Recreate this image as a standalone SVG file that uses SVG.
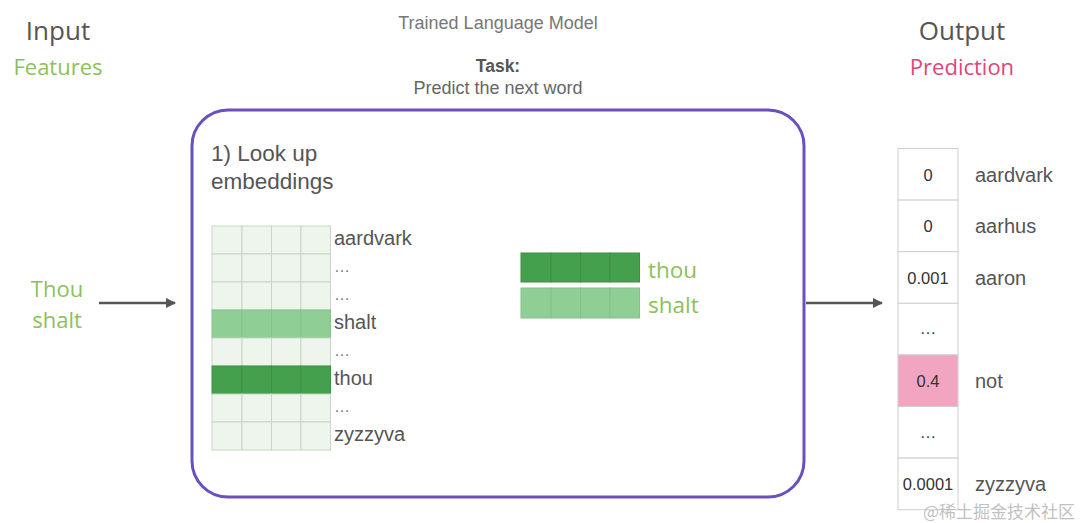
<svg xmlns="http://www.w3.org/2000/svg" width="1080" height="523" viewBox="0 0 1080 523">
<defs>
<marker id="arr" markerWidth="10" markerHeight="10" refX="9" refY="5" orient="auto" markerUnits="userSpaceOnUse">
<path d="M0,0 L10,5 L0,10 Z" fill="#555"/>
</marker>
<style>
.os{font-family:"Open Sans","Noto Sans",sans-serif}
.hv{font-family:"Liberation Sans",Arial,sans-serif}
.gray{fill:#555}
.green{fill:#8dbf5a}
.cell{fill:#eef5ec;stroke:#c7d6c5;stroke-width:1}
.dark{fill:#44a04c;stroke:#3e8f45;stroke-width:1}
.light{fill:#8fcf96;stroke:#86c08c;stroke-width:1}
.ocell{fill:#fff;stroke:#cfcfcf;stroke-width:1}
.lbl{font-size:20px}
.dots{font-size:16px;fill:#777}
.val{font-size:16.5px;fill:#333;text-anchor:middle}
.conn{stroke:#555;stroke-width:2.5;fill:none}
</style>
</defs>
<rect width="1080" height="523" fill="#fff"/>

<g id="input-header">
<text class="os gray" x="58" y="40" font-size="26" text-anchor="middle">Input</text>
<text class="os green" x="58" y="75" font-size="22" text-anchor="middle">Features</text>
</g>
<g id="output-header">
<text class="os gray" x="962" y="40" font-size="26" text-anchor="middle">Output</text>
<text class="os" x="962" y="75" font-size="22" text-anchor="middle" fill="#e0457b">Prediction</text>
</g>
<g id="title">
<text class="hv" x="498" y="29" font-size="18" text-anchor="middle" fill="#777">Trained Language Model</text>
<text class="hv" x="498" y="72" font-size="17.5" text-anchor="middle" fill="#555" font-weight="bold">Task:</text>
<text class="hv" x="498" y="94" font-size="18" text-anchor="middle" fill="#666">Predict the next word</text>
</g>

<g id="input-words">
<text class="os green" x="57" y="297" font-size="22" text-anchor="middle">Thou</text>
<text class="os green" x="57" y="328" font-size="22" text-anchor="middle">shalt</text>
</g>

<g id="model">
<rect x="192" y="110" width="612" height="387" rx="36" fill="none" stroke="#6a4fbf" stroke-width="3"/>
<text class="hv gray" x="211" y="161" font-size="22.5">1) Look up</text>
<text class="hv gray" x="211" y="189" font-size="22.5">embeddings</text>
</g>

<g id="embedding-matrix">
<g>
<rect class="cell" x="212" y="226" width="30" height="28"/><rect class="cell" x="242" y="226" width="29.5" height="28"/><rect class="cell" x="271.5" y="226" width="29.5" height="28"/><rect class="cell" x="301" y="226" width="29.5" height="28"/>
<rect class="cell" x="212" y="254" width="30" height="28"/><rect class="cell" x="242" y="254" width="29.5" height="28"/><rect class="cell" x="271.5" y="254" width="29.5" height="28"/><rect class="cell" x="301" y="254" width="29.5" height="28"/>
<rect class="cell" x="212" y="282" width="30" height="28"/><rect class="cell" x="242" y="282" width="29.5" height="28"/><rect class="cell" x="271.5" y="282" width="29.5" height="28"/><rect class="cell" x="301" y="282" width="29.5" height="28"/>
<rect class="light" x="212" y="310" width="30" height="28"/><rect class="light" x="242" y="310" width="29.5" height="28"/><rect class="light" x="271.5" y="310" width="29.5" height="28"/><rect class="light" x="301" y="310" width="29.5" height="28"/>
<rect class="cell" x="212" y="338" width="30" height="28"/><rect class="cell" x="242" y="338" width="29.5" height="28"/><rect class="cell" x="271.5" y="338" width="29.5" height="28"/><rect class="cell" x="301" y="338" width="29.5" height="28"/>
<rect class="dark" x="212" y="366" width="30" height="28"/><rect class="dark" x="242" y="366" width="29.5" height="28"/><rect class="dark" x="271.5" y="366" width="29.5" height="28"/><rect class="dark" x="301" y="366" width="29.5" height="28"/>
<rect class="cell" x="212" y="394" width="30" height="28"/><rect class="cell" x="242" y="394" width="29.5" height="28"/><rect class="cell" x="271.5" y="394" width="29.5" height="28"/><rect class="cell" x="301" y="394" width="29.5" height="28"/>
<rect class="cell" x="212" y="422" width="30" height="28"/><rect class="cell" x="242" y="422" width="29.5" height="28"/><rect class="cell" x="271.5" y="422" width="29.5" height="28"/><rect class="cell" x="301" y="422" width="29.5" height="28"/>
</g>
<g class="hv gray">
<text class="lbl" x="334" y="245">aardvark</text>
<text class="dots" x="334" y="272">…</text>
<text class="dots" x="334" y="300">…</text>
<text class="lbl" x="334" y="329">shalt</text>
<text class="dots" x="334" y="356">…</text>
<text class="lbl" x="334" y="385">thou</text>
<text class="dots" x="334" y="412">…</text>
<text class="lbl" x="334" y="441">zyzzyva</text>
</g>
</g>

<g id="looked-up">
<rect class="dark" x="521" y="253" width="30" height="29"/><rect class="dark" x="551" y="253" width="29.5" height="29"/><rect class="dark" x="580.5" y="253" width="29.5" height="29"/><rect class="dark" x="610" y="253" width="29.5" height="29"/>
<rect class="light" x="521" y="288" width="30" height="30"/><rect class="light" x="551" y="288" width="29.5" height="30"/><rect class="light" x="580.5" y="288" width="29.5" height="30"/><rect class="light" x="610" y="288" width="29.5" height="30"/>
<text class="os green" x="648" y="278" font-size="22.5">thou</text>
<text class="os green" x="648" y="313" font-size="22.5">shalt</text>
</g>

<g id="output-column">
<rect class="ocell" x="898" y="148.5" width="60" height="51.6"/>
<rect class="ocell" x="898" y="200.1" width="60" height="51.6"/>
<rect class="ocell" x="898" y="251.7" width="60" height="51.6"/>
<rect class="ocell" x="898" y="303.3" width="60" height="51.6"/>
<rect x="898" y="354.9" width="60" height="51.6" fill="#f2a5c0" stroke="#cfcfcf" stroke-width="1"/>
<rect class="ocell" x="898" y="406.5" width="60" height="51.6"/>
<rect class="ocell" x="898" y="458.1" width="60" height="51.6"/>
<g class="hv">
<text class="val" x="928" y="181">0</text>
<text class="val" x="928" y="232">0</text>
<text class="val" x="928" y="284">0.001</text>
<text class="val" x="928" y="334" fill="#777">…</text>
<text class="val" x="928" y="387">0.4</text>
<text class="val" x="928" y="438" fill="#777">…</text>
<text class="val" x="928" y="490">0.0001</text>
</g>
<g class="hv lbl gray">
<text x="975" y="182">aardvark</text>
<text x="975" y="233">aarhus</text>
<text x="975" y="285">aaron</text>
<text x="975" y="388">not</text>
<text x="975" y="491">zyzzyva</text>
</g>
</g>

<g id="connectors">
<line class="conn" x1="99" y1="303" x2="175" y2="303" marker-end="url(#arr)"/>
<line class="conn" x1="806" y1="303" x2="882" y2="303" marker-end="url(#arr)"/>
</g>

<text x="1075" y="518" font-family="'Noto Sans CJK SC',sans-serif" font-size="17" fill="#bbb" text-anchor="end" opacity="0.9">@稀土掘金技术社区</text>
</svg>
